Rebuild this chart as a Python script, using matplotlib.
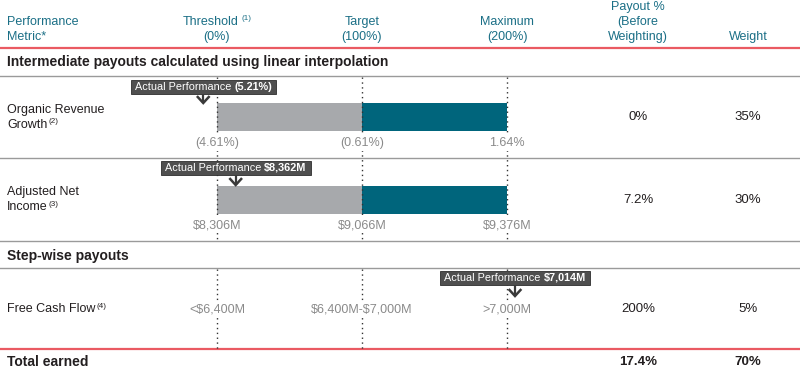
import numpy as np
import matplotlib.pyplot as plt
from matplotlib.patches import Rectangle

plt.rcParams['font.family'] = ['Liberation Sans', 'DejaVu Sans']

# donnees
metrics = ["Organic Revenue\nGrowth", "Adjusted Net\nIncome", "Free Cash Flow"]
notes = ["(2)", "(3)", "(4)"]
threshold_vals = [-4.61, 8306, 6400]
target_vals = [-0.61, 9066, 7000]
maximum_vals = [1.64, 9376, 7000]
actual_vals = [-5.21, 8362, 7014]
threshold_labels = ["(4.61%)", r"\$8,306M", r"<\$6,400M"]
target_labels = ["(0.61%)", r"\$9,066M", r"\$6,400M-\$7,000M"]
maximum_labels = ["1.64%", r"\$9,376M", ">7,000M"]
actual_labels = ["(5.21%)", r"\$8,362M", r"\$7,014M"]
payouts = ["0%", "7.2%", "200%"]
weights = ["35%", "30%", "5%"]
total_payout = "17.4%"
total_weight = "70%"

teal_txt = '#1b6f86'
teal_bar = '#00657c'
grey_bar = '#a7a9ac'
red = '#ea5a62'
grey_line = '#9a9a9a'
lab_grey = '#8a8a8a'
dark = '#231f20'
box_col = '#4f4f4f'

fig = plt.figure(figsize=(8, 3.71), dpi=100)
ax = fig.add_axes([0, 0, 1, 1])
ax.set_xlim(0, 800)
ax.set_ylim(371, 0)
ax.axis('off')
fig.canvas.draw()
renderer = fig.canvas.get_renderer()


def largeur(t):
    b = t.get_window_extent(renderer)
    return b.width  # 1 px = 1 unite ici


def exposant(t, s, color, ecart=1):
    # petit texte en exposant colle a droite du texte t
    b = t.get_window_extent(renderer)
    x = b.x1 + ecart
    y = 371 - b.y1 - 0.5
    ax.text(x, y, s, fontsize=5.8, color=color, ha='left', va='top')


x_thr, x_tgt, x_max = 217, 362, 507
x_pay, x_w = 638, 748
fs = 9

# entetes
ax.text(7, 22, "Performance", color=teal_txt, fontsize=fs, va='center', ha='left')
ax.text(7, 37, "Metric*", color=teal_txt, fontsize=fs, va='center', ha='left')
th = ax.text(x_thr - 6, 22, "Threshold", color=teal_txt, fontsize=fs, va='center', ha='center')
exposant(th, "(1)", teal_txt, ecart=3)
ax.text(x_thr, 37, "(0%)", color=teal_txt, fontsize=fs, va='center', ha='center')
ax.text(x_tgt, 22, "Target", color=teal_txt, fontsize=fs, va='center', ha='center')
ax.text(x_tgt, 37, "(100%)", color=teal_txt, fontsize=fs, va='center', ha='center')
ax.text(x_max, 22, "Maximum", color=teal_txt, fontsize=fs, va='center', ha='center')
ax.text(x_max, 37, "(200%)", color=teal_txt, fontsize=fs, va='center', ha='center')
for yy, s in zip((7, 22, 37), ("Payout %", "(Before", "Weighting)")):
    ax.text(x_pay, yy, s, color=teal_txt, fontsize=fs, va='center', ha='center')
ax.text(x_w, 37, "Weight", color=teal_txt, fontsize=fs, va='center', ha='center')

ax.axhline(48, color=red, lw=1.6)
ax.text(7, 62, "Intermediate payouts calculated using linear interpolation", fontsize=10, weight='bold', color=dark, va='center')
ax.axhline(76, color=grey_line, lw=1)
ax.axhline(158, color=grey_line, lw=1)
ax.axhline(241, color=grey_line, lw=1)
ax.text(7, 256, "Step-wise payouts", fontsize=10, weight='bold', color=dark, va='center')
ax.axhline(268, color=grey_line, lw=1)
ax.axhline(349, color=red, lw=1.6)
ax.text(7, 362, "Total earned", fontsize=10, weight='bold', color=dark, va='center')
ax.text(x_pay, 362, total_payout, fontsize=fs + 0.5, weight='bold', color=dark, va='center', ha='center')
ax.text(x_w, 362, total_weight, fontsize=fs + 0.5, weight='bold', color=dark, va='center', ha='center')

# lignes pointillees
for x in (x_thr, x_tgt, x_max):
    ax.plot([x, x], [77, 241], color='#333333', lw=1, ls=(0, (1, 2.5)), zorder=3)
    ax.plot([x, x], [269, 349], color='#333333', lw=1, ls=(0, (1, 2.5)), zorder=3)

bar_y = [117, 199.5, None]
lab_y = [143, 225, 309]
box_y = [86.5, 168, 278]
tip_y = [103, 185, 296]
name_y = [117, 200, 309]

for i in range(3):
    # barres
    if bar_y[i] is not None:
        ax.barh(bar_y[i], x_tgt - x_thr, left=x_thr, height=28, color=grey_bar, zorder=2)
        ax.barh(bar_y[i], x_max - x_tgt, left=x_tgt, height=28, color=teal_bar, zorder=2)
    lignes = metrics[i].split("\n")
    y0 = name_y[i] - 7.5 * (len(lignes) - 1)
    for k, l in enumerate(lignes):
        t = ax.text(7, y0 + 15 * k, l, fontsize=fs, color=dark, va='center', ha='left')
    exposant(t, notes[i], dark)
    for x, lab in zip((x_thr, x_tgt, x_max), (threshold_labels[i], target_labels[i], maximum_labels[i])):
        ax.text(x, lab_y[i], lab, fontsize=fs, color=lab_grey, ha='center', va='center', zorder=4,
                bbox=dict(facecolor='white', edgecolor='none', pad=1.5))
    ax.text(x_pay, name_y[i], payouts[i], fontsize=fs + 0.5, color=dark, ha='center', va='center')
    ax.text(x_w, name_y[i], weights[i], fontsize=fs + 0.5, color=dark, ha='center', va='center')

    # position de la fleche
    a = actual_vals[i]
    if i < 2:
        xa = x_thr + (a - threshold_vals[i]) / (target_vals[i] - threshold_vals[i]) * (x_tgt - x_thr)
    else:
        xa = x_max if a > maximum_vals[i] else (x_tgt if a >= threshold_vals[i] else x_thr)
    xa += 8

    t1 = ax.text(0, box_y[i], "Actual Performance ", fontsize=7.8, color='white', va='center', ha='left', zorder=6)
    t2 = ax.text(0, box_y[i], actual_labels[i], fontsize=7.8, color='white', weight='bold', va='center', ha='left', zorder=6)
    w1 = largeur(t1)
    w2 = largeur(t2)
    x0 = xa - (w1 + w2) / 2
    t1.set_x(x0)
    t2.set_x(x0 + w1)
    ax.add_patch(Rectangle((x0 - 4, box_y[i] - 7), w1 + w2 + 8, 14, facecolor=box_col,
                           edgecolor='#2e2e2e', lw=0.6, zorder=5))
    # fleche en chevron
    yb = box_y[i] + 7
    ax.plot([xa, xa], [yb, tip_y[i]], color='#3a3a3a', lw=1.6, zorder=6, solid_capstyle='butt')
    ax.plot([xa - 5.5, xa, xa + 5.5], [tip_y[i] - 6, tip_y[i], tip_y[i] - 6], color='#3a3a3a', lw=1.8,
            zorder=6, solid_joinstyle='miter')

fig.savefig('out.png', dpi=100)
